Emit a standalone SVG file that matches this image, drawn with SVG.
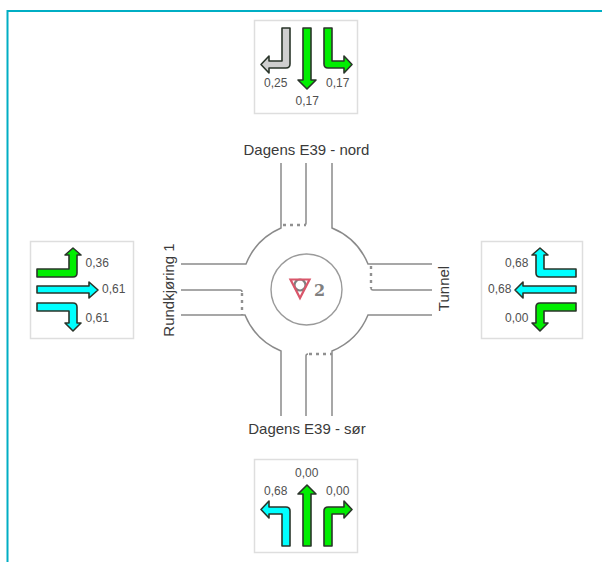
<svg xmlns="http://www.w3.org/2000/svg" width="602" height="562" viewBox="0 0 602 562">
<style>
.panel{fill:#fff;stroke:#dedede;stroke-width:1.5}
.road{fill:none;stroke:#8a8a8a;stroke-width:1.5}
.dot{fill:none;stroke:#909090;stroke-width:2.4;stroke-dasharray:3 4}
.arrow{stroke:#2a352a;stroke-width:1.6;stroke-linejoin:round}
.g{fill:#00ee00}.c{fill:#00ffff}.s{fill:#cfcfcf}
.v{font:12px "Liberation Sans",Arial,sans-serif;fill:#505050}
.lbl{font:15px "Liberation Sans",Arial,sans-serif;fill:#3a3a3a}
</style>
<rect width="602" height="562" fill="#fff"/>
<g id="frame"><path d="M7.500 562V11H602" fill="none" stroke="#00aec4" stroke-width="2"/></g>
<g id="connectors">
<path class="road" d="M281 163V228A66 66 0 0 0 246 264H181"/>
<path class="road" d="M332 163V228A66 66 0 0 1 368 264H432"/>
<path class="road" d="M181 315H245A66 66 0 0 0 281 351V416"/>
<path class="road" d="M432 315H368A66 66 0 0 1 332 351V416"/>
<path class="road" d="M306 163V223Q306 225 304 225"/>
<path class="road" d="M306 416V356Q306 354 308 354"/>
<path class="road" d="M181 290H240Q242 290 242 292"/>
<path class="road" d="M432 290H373Q371 290 371 288"/>
<path class="dot" d="M283 225H306"/>
<path class="dot" d="M309 354H332"/>
<path class="dot" d="M242 293V315"/>
<path class="dot" d="M371 266V288"/>
</g>
<g id="roundabout">
<circle cx="306.500" cy="289.500" r="35.500" fill="#fff" stroke="#9a9a9a" stroke-width="1.400"/>
<circle cx="300" cy="285" r="5.500" fill="#fff" stroke="#808080" stroke-width="2.200"/>
<path d="M290.500 279.500H309.500L300 298Z" fill="none" stroke="#d9566a" stroke-width="2.200"/>
<text x="314" y="295.500" style="font:bold 16px 'DejaVu Serif',serif;fill:#808080">2</text>
</g>
<g id="panel-north">
<rect class="panel" x="254.500" y="20.500" width="103" height="93"/>
<path class="arrow s" d="M282 28H290V64Q290 68 286 68H269V73L261 64.500L269 56V61H282Z"/>
<path class="arrow g" d="M303 28H311V80H316L307 89L298 80H303Z"/>
<path class="arrow g" d="M324 28H332V61H344V56L352 64.500L344 73V68H328Q324 68 324 64Z"/>
<text class="v" x="264" y="87">0,25</text><text class="v" x="295.500" y="105">0,17</text><text class="v" x="326" y="87">0,17</text>
</g>
<g id="panel-south">
<rect class="panel" x="254.500" y="459.500" width="103" height="93"/>
<path class="arrow c" d="M282 546H290V511Q290 507 286 507H269V501L261 509.500L269 518V514H282Z"/>
<path class="arrow g" d="M303 546H311V494H316L307 485L298 494H303Z"/>
<path class="arrow g" d="M324 546H332V514H344V518L352 509.500L344 501V507H328Q324 507 324 511Z"/>
<text class="v" x="295" y="477">0,00</text><text class="v" x="264" y="495">0,68</text><text class="v" x="326" y="495">0,00</text>
</g>
<g id="panel-west">
<rect class="panel" x="30.500" y="241.500" width="103" height="97"/>
<path class="arrow g" d="M37 269H69V255H65L73 248L81 255H77V273Q77 277 73 277H37Z"/>
<path class="arrow c" d="M37 286H89V282L98 290L89 298V293H37Z"/>
<path class="arrow c" d="M37 303H73Q77 303 77 307V323H81L73 331L65 323H69V311H37Z"/>
<text class="v" x="85.500" y="267">0,36</text><text class="v" x="102" y="293">0,61</text><text class="v" x="85.500" y="322">0,61</text>
</g>
<g id="panel-east">
<rect class="panel" x="481.500" y="241.500" width="101" height="97"/>
<path class="arrow c" d="M576 269H544V255H548L540 248L532 255H536V273Q536 277 540 277H576Z"/>
<path class="arrow c" d="M576 286H523V282L515 290L523 298V293H576Z"/>
<path class="arrow g" d="M576 303H540Q536 303 536 307V323H532L540 331L548 323H544V311H576Z"/>
<text class="v" x="505" y="267">0,68</text><text class="v" x="488" y="293">0,68</text><text class="v" x="505" y="322">0,00</text>
</g>
<g id="labels">
<text class="lbl" x="306.500" y="155" text-anchor="middle">Dagens E39 - nord</text>
<text class="lbl" x="307" y="434" text-anchor="middle">Dagens E39 - sør</text>
<text class="lbl" transform="translate(174 290) rotate(-90)" text-anchor="middle">Rundkjøring 1</text>
<text class="lbl" transform="translate(449 288.500) rotate(-90)" text-anchor="middle">Tunnel</text>
</g>
</svg>
